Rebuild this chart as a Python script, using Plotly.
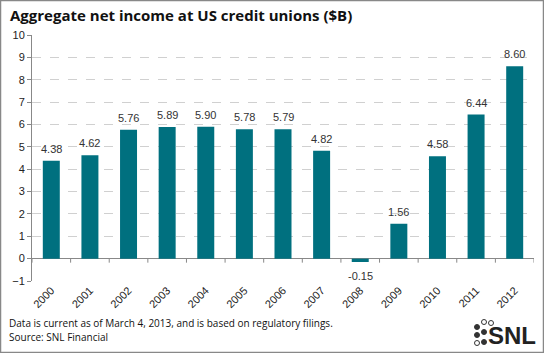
import plotly.graph_objects as go

years = ["2000", "2001", "2002", "2003", "2004", "2005", "2006",
         "2007", "2008", "2009", "2010", "2011", "2012"]
net_income = [4.38, 4.62, 5.76, 5.89, 5.90, 5.78, 5.79, 4.82, -0.15, 1.56, 4.58, 6.44, 8.60]
labels = [f"{v:.2f}" for v in net_income]
y_ticks = list(range(-1, 11))

W, H = 544, 353
ml, mr, mt, mb = 32, 10, 35, 72
pw, ph = W - ml - mr, H - mt - mb

def px(x):
    return (x - ml) / pw

def py(y):
    return (H - mb - y) / ph

fig = go.Figure()
fig.add_trace(go.Bar(
    x=years, y=net_income, marker_color="#00707f", marker_line_width=0,
))

for i, (v, lab) in enumerate(zip(net_income, labels)):
    fig.add_annotation(x=i, y=v, xref="x", yref="y", text=lab, showarrow=False,
                       yanchor="bottom" if v >= 0 else "top",
                       yshift=4 if v >= 0 else -6,
                       font=dict(family="Liberation Sans, Arial", size=11, color="#333333"))

fig.update_layout(
    width=W, height=H, margin=dict(l=ml, r=mr, t=mt, b=mb),
    paper_bgcolor="white", plot_bgcolor="white",
    bargap=0.56, showlegend=False,
    xaxis=dict(type="category", tickangle=-45, showgrid=False, ticks="",
               range=[-0.5, len(years) - 0.5],
               tickfont=dict(family="Liberation Sans, Arial", size=11, color="#222222"),
               showline=False, zeroline=False),
    yaxis=dict(range=[-1, 10], tickvals=y_ticks, ticks="outside", ticklen=4,
               tickcolor="#888888", showline=True, linecolor="#888888", linewidth=1,
               showgrid=True, gridcolor="#d0d0d0", griddash="dash", gridwidth=1,
               zeroline=True, zerolinecolor="#888888", zerolinewidth=1,
               tickfont=dict(family="Liberation Sans, Arial", size=11, color="#222222")),
    font=dict(family="Open Sans"),
)

# tick marks between categories on the zero line
for i in range(len(years) + 1):
    fig.add_shape(type="line", xref="x", yref="y", x0=i - 0.5, x1=i - 0.5,
                  y0=0, y1=-0.18, line=dict(color="#888888", width=1))

# title
fig.add_annotation(text="<b>Aggregate net income at US credit unions ($B)</b>",
                   xref="paper", yref="paper", x=px(8), y=py(15), xanchor="left",
                   yanchor="middle", showarrow=False,
                   font=dict(family="Open Sans", size=15, color="#111111"))
# footnotes
fig.add_annotation(text="Data is current as of March 4, 2013, and is based on regulatory filings.",
                   xref="paper", yref="paper", x=px(7), y=py(323), xanchor="left",
                   yanchor="middle", showarrow=False,
                   font=dict(family="Open Sans", size=10, color="#111111"))
fig.add_annotation(text="Source: SNL Financial",
                   xref="paper", yref="paper", x=px(7), y=py(337), xanchor="left",
                   yanchor="middle", showarrow=False,
                   font=dict(family="Open Sans", size=10, color="#111111"))
# SNL logo
fig.add_annotation(text="<b>SNL</b>", xref="paper", yref="paper", x=px(538), y=py(335),
                   xanchor="right", yanchor="middle", showarrow=False,
                   font=dict(family="Liberation Sans, Arial", size=24, color="#222222"))
dots = [(477, 327, True), (484, 322, False), (491, 323, False), (477, 335, True),
        (484, 332, True), (477, 343, False), (484, 342, True)]
for cx, cy, filled in dots:
    r = 2.5
    fig.add_shape(type="circle", xref="paper", yref="paper",
                  x0=px(cx - r), x1=px(cx + r), y0=py(cy + r), y1=py(cy - r),
                  line=dict(color="#333333", width=1),
                  fillcolor="#333333" if filled else "white")

# border
fig.add_shape(type="rect", xref="paper", yref="paper",
              x0=px(0.5), x1=px(W - 0.5), y0=py(H - 0.5), y1=py(0.5),
              line=dict(color="#888888", width=1.5))

fig.write_html("out.html")
